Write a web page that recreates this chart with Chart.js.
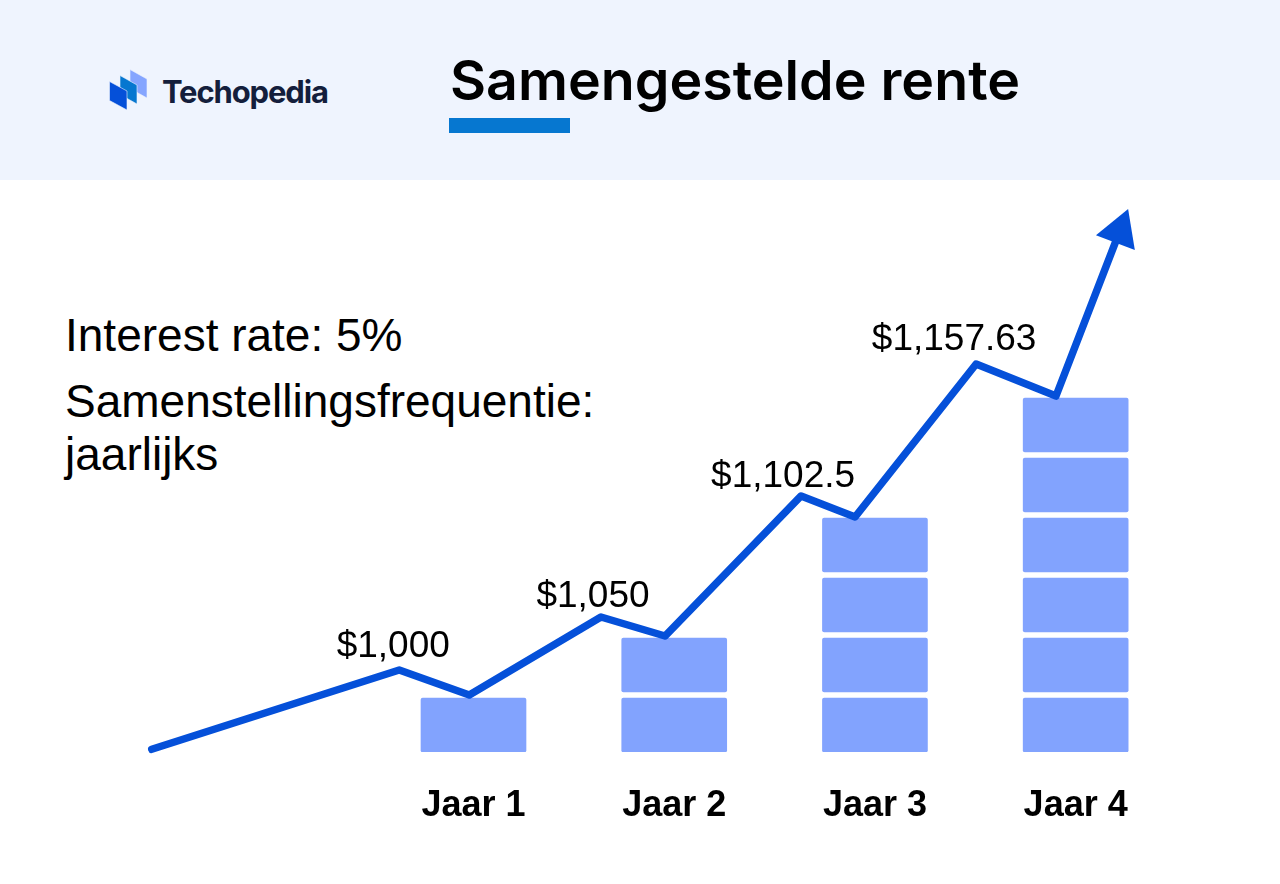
<!DOCTYPE html>
<html>
<head>
<meta charset="utf-8">
<title>Samengestelde rente</title>
<script src="https://cdn.jsdelivr.net/npm/chart.js@4"></script>
<style>
    html, body { margin: 0; padding: 0; background: #fff; }
    body { position: relative; width: 1280px; height: 884px; overflow: hidden; font-family: "Liberation Sans", sans-serif; }
    #header { position: absolute; left: 0; top: 0; width: 1280px; height: 180px; background: #eff4fe; }
    #logo { position: absolute; left: 0; top: 0; }
    #brand { position: absolute; left: 162px; top: 72px; font: 700 31px/40px Inter, sans-serif; letter-spacing: -1.15px; color: #141e3c; }
    #title { position: absolute; left: 450px; top: 46px; font: 600 55.5px/68px Inter, sans-serif; color: #000; white-space: nowrap; }
    #underline { position: absolute; left: 449px; top: 118px; width: 121px; height: 15px; background: #0677d0; }
    .note { position: absolute; left: 65px; font-size: 46px; line-height: 52px; color: #000; white-space: nowrap; }
    #holder { position: absolute; left: 0; top: 180px; width: 1280px; height: 704px; }
</style>
</head>
<body>
<div id="header">
    <svg id="logo" width="200" height="180">
        <polygon points="130,69.5 147,79 147,98 130,88.5" fill="#85a5ff" stroke="#eff4fe" stroke-width="0.6"/>
        <polygon points="120,75.5 137,85 137,104 120,94.5" fill="#0677d0" stroke="#eff4fe" stroke-width="0.6"/>
        <polygon points="109.5,81.5 127,91 127,110 109.5,100.5" fill="#0550d9" stroke="#eff4fe" stroke-width="0.6"/>
    </svg>
    <div id="brand">Techopedia</div>
    <div id="title">Samengestelde rente</div>
    <div id="underline"></div>
</div>
<div class="note" style="top:309px">Interest rate: 5%</div>
<div class="note" style="top:375px">Samenstellingsfrequentie:</div>
<div class="note" style="top:428px">jaarlijks</div>
<div id="holder"><canvas id="chart" width="1280" height="704"></canvas></div>

<script>
// x axis is in years, y axis is in blocks
const years = [1, 2, 3, 4];
const yearLabels = ['Jaar 1', 'Jaar 2', 'Jaar 3', 'Jaar 4'];
const blocksPerYear = [1, 2, 4, 6];

// growth line, last point is the arrow head
const lineX = [-0.603, 0.630, 0.979, 1.635, 1.954, 2.632, 2.901, 3.504, 3.902, 4.219];
const lineY = [0.045, 1.367, 0.95, 2.25, 1.933, 4.267, 3.917, 6.467, 5.933, 8.677];

// labels sit on the peaks of the line
const peakIndex = [1, 3, 5, 7];
const peakLabels = ['$1,000', '$1,050', '$1,102.5', '$1,157.63'];

const blueLine = '#0550d9';
const blueBlock = '#82a3fe';

var blockSets = [];
for (var level = 0; level < Math.max(...blocksPerYear); level++) {
    var blocks = [];
    years.forEach(function (year, i) {
        if (blocksPerYear[i] > level) {
            blocks.push({ x: year, y: [level, level + 0.9] });
        }
    });
    blockSets.push({
        type: 'bar',
        data: blocks,
        backgroundColor: blueBlock,
        borderRadius: 2,
        borderSkipped: false,
        barThickness: 105,
        grouped: false,
        order: 2
    });
}

var linePoints = lineX.map(function (x, i) {
    return { x: x, y: lineY[i] };
});
var lastPoint = linePoints.length - 1;

var peakLabelPlugin = {
    id: 'peakLabels',
    afterDatasetsDraw: function (chart) {
        var ctx = chart.ctx;
        // nudges so the text sits left of the peak, like the original
        var nudgeX = [-6, -8, -18, -22];
        var nudgeY = [-23, -20, -19, -24];
        ctx.save();
        ctx.font = '37px "Liberation Sans"';
        ctx.fillStyle = '#000';
        ctx.textAlign = 'center';
        ctx.textBaseline = 'middle';
        peakIndex.forEach(function (idx, i) {
            var px = chart.scales.x.getPixelForValue(lineX[idx]);
            var py = chart.scales.y.getPixelForValue(lineY[idx]);
            ctx.fillText(peakLabels[i], px + nudgeX[i], py + nudgeY[i]);
        });
        ctx.restore();
    }
};

new Chart(document.getElementById('chart'), {
    data: {
        datasets: blockSets.concat([{
            type: 'line',
            data: linePoints,
            borderColor: blueLine,
            backgroundColor: blueLine,
            borderWidth: 7.5,
            borderCapStyle: 'round',
            borderJoinStyle: 'round',
            tension: 0,
            pointStyle: 'triangle',
            pointRadius: linePoints.map((p, i) => i === lastPoint ? 24 : 0),
            pointRotation: 20.7,
            pointBorderWidth: 0,
            clip: false,
            order: 1
        }])
    },
    options: {
        responsive: false,
        animation: false,
        layout: { padding: 0, autoPadding: false },
        plugins: {
            legend: { display: false },
            title: { display: false },
            tooltip: { enabled: false }
        },
        scales: {
            x: {
                type: 'linear',
                offset: false,
                min: -1.359,
                max: 5.018,
                grid: { display: false },
                border: { display: false },
                afterFit: function (scale) { scale.height = 132; },
                afterBuildTicks: function (scale) {
                    scale.ticks = years.map(function (y) { return { value: y }; });
                },
                ticks: {
                    autoSkip: false,
                    maxRotation: 0,
                    padding: 24,
                    color: '#000',
                    font: { family: '"Liberation Sans"', size: 36, weight: 'bold' },
                    callback: function (value) { return yearLabels[years.indexOf(value)]; }
                }
            },
            y: {
                display: false,
                min: 0,
                max: 9.533
            }
        }
    },
    plugins: [peakLabelPlugin]
});
</script>
</body>
</html>
